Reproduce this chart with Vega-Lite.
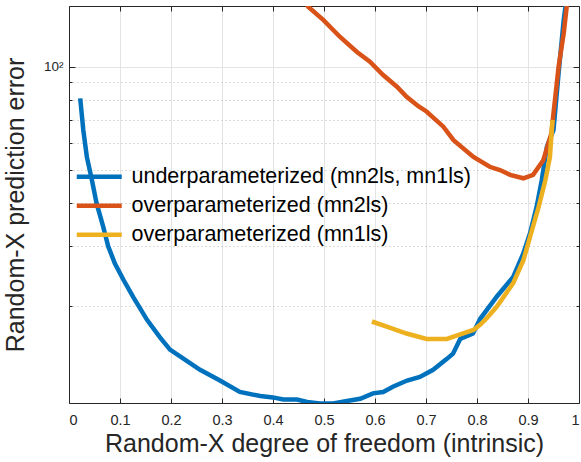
{
  "$schema": "https://vega.github.io/schema/vega-lite/v6.json",
  "width": 510,
  "height": 397,
  "autosize": {"type": "none"},
  "padding": {"left": 69, "top": 6, "right": 2, "bottom": 59},
  "background": "white",
  "config": {
    "view": {"stroke": null},
    "font": "Liberation Sans",
    "axis": {
      "domainColor": "#262626",
      "tickColor": "#262626",
      "labelColor": "#262626",
      "titleColor": "#262626",
      "labelFontSize": 14.5,
      "titleFontSize": 25,
      "titleFontWeight": "normal",
      "domainWidth": 1,
      "tickWidth": 1
    }
  },
  "data": {
    "values": [
      {"x": 0.022, "y": 80.8, "series": "underparameterized (mn2ls, mn1ls)"},
      {"x": 0.028, "y": 65.3, "series": "underparameterized (mn2ls, mn1ls)"},
      {"x": 0.035, "y": 54.5, "series": "underparameterized (mn2ls, mn1ls)"},
      {"x": 0.045, "y": 46.6, "series": "underparameterized (mn2ls, mn1ls)"},
      {"x": 0.054, "y": 39.9, "series": "underparameterized (mn2ls, mn1ls)"},
      {"x": 0.067, "y": 34.1, "series": "underparameterized (mn2ls, mn1ls)"},
      {"x": 0.077, "y": 29.8, "series": "underparameterized (mn2ls, mn1ls)"},
      {"x": 0.090, "y": 26.6, "series": "underparameterized (mn2ls, mn1ls)"},
      {"x": 0.107, "y": 23.8, "series": "underparameterized (mn2ls, mn1ls)"},
      {"x": 0.126, "y": 21.2, "series": "underparameterized (mn2ls, mn1ls)"},
      {"x": 0.153, "y": 18.2, "series": "underparameterized (mn2ls, mn1ls)"},
      {"x": 0.178, "y": 16.2, "series": "underparameterized (mn2ls, mn1ls)"},
      {"x": 0.198, "y": 14.9, "series": "underparameterized (mn2ls, mn1ls)"},
      {"x": 0.257, "y": 13.0, "series": "underparameterized (mn2ls, mn1ls)"},
      {"x": 0.296, "y": 12.1, "series": "underparameterized (mn2ls, mn1ls)"},
      {"x": 0.335, "y": 11.2, "series": "underparameterized (mn2ls, mn1ls)"},
      {"x": 0.375, "y": 10.9, "series": "underparameterized (mn2ls, mn1ls)"},
      {"x": 0.400, "y": 10.8, "series": "underparameterized (mn2ls, mn1ls)"},
      {"x": 0.420, "y": 10.65, "series": "underparameterized (mn2ls, mn1ls)"},
      {"x": 0.447, "y": 10.65, "series": "underparameterized (mn2ls, mn1ls)"},
      {"x": 0.467, "y": 10.47, "series": "underparameterized (mn2ls, mn1ls)"},
      {"x": 0.492, "y": 10.37, "series": "underparameterized (mn2ls, mn1ls)"},
      {"x": 0.518, "y": 10.37, "series": "underparameterized (mn2ls, mn1ls)"},
      {"x": 0.545, "y": 10.54, "series": "underparameterized (mn2ls, mn1ls)"},
      {"x": 0.571, "y": 10.7, "series": "underparameterized (mn2ls, mn1ls)"},
      {"x": 0.596, "y": 11.1, "series": "underparameterized (mn2ls, mn1ls)"},
      {"x": 0.616, "y": 11.2, "series": "underparameterized (mn2ls, mn1ls)"},
      {"x": 0.635, "y": 11.6, "series": "underparameterized (mn2ls, mn1ls)"},
      {"x": 0.663, "y": 12.1, "series": "underparameterized (mn2ls, mn1ls)"},
      {"x": 0.688, "y": 12.4, "series": "underparameterized (mn2ls, mn1ls)"},
      {"x": 0.714, "y": 13.0, "series": "underparameterized (mn2ls, mn1ls)"},
      {"x": 0.741, "y": 14.0, "series": "underparameterized (mn2ls, mn1ls)"},
      {"x": 0.753, "y": 14.5, "series": "underparameterized (mn2ls, mn1ls)"},
      {"x": 0.767, "y": 16.0, "series": "underparameterized (mn2ls, mn1ls)"},
      {"x": 0.792, "y": 16.6, "series": "underparameterized (mn2ls, mn1ls)"},
      {"x": 0.806, "y": 18.3, "series": "underparameterized (mn2ls, mn1ls)"},
      {"x": 0.839, "y": 21.3, "series": "underparameterized (mn2ls, mn1ls)"},
      {"x": 0.871, "y": 24.3, "series": "underparameterized (mn2ls, mn1ls)"},
      {"x": 0.891, "y": 28.5, "series": "underparameterized (mn2ls, mn1ls)"},
      {"x": 0.904, "y": 32.6, "series": "underparameterized (mn2ls, mn1ls)"},
      {"x": 0.917, "y": 39.0, "series": "underparameterized (mn2ls, mn1ls)"},
      {"x": 0.927, "y": 46.6, "series": "underparameterized (mn2ls, mn1ls)"},
      {"x": 0.937, "y": 58.3, "series": "underparameterized (mn2ls, mn1ls)"},
      {"x": 0.950, "y": 65.3, "series": "underparameterized (mn2ls, mn1ls)"},
      {"x": 0.960, "y": 95.6, "series": "underparameterized (mn2ls, mn1ls)"},
      {"x": 0.970, "y": 136.9, "series": "underparameterized (mn2ls, mn1ls)"},
      {"x": 0.976, "y": 160, "series": "underparameterized (mn2ls, mn1ls)"},

      {"x": 0.462, "y": 156, "series": "overparameterized (mn2ls)"},
      {"x": 0.469, "y": 149.7, "series": "overparameterized (mn2ls)"},
      {"x": 0.499, "y": 136.9, "series": "overparameterized (mn2ls)"},
      {"x": 0.531, "y": 122.4, "series": "overparameterized (mn2ls)"},
      {"x": 0.564, "y": 110.6, "series": "overparameterized (mn2ls)"},
      {"x": 0.590, "y": 103.4, "series": "overparameterized (mn2ls)"},
      {"x": 0.616, "y": 94.6, "series": "overparameterized (mn2ls)"},
      {"x": 0.643, "y": 87.4, "series": "overparameterized (mn2ls)"},
      {"x": 0.662, "y": 81.7, "series": "overparameterized (mn2ls)"},
      {"x": 0.685, "y": 76.7, "series": "overparameterized (mn2ls)"},
      {"x": 0.701, "y": 74.0, "series": "overparameterized (mn2ls)"},
      {"x": 0.734, "y": 66.8, "series": "overparameterized (mn2ls)"},
      {"x": 0.754, "y": 61.0, "series": "overparameterized (mn2ls)"},
      {"x": 0.793, "y": 54.5, "series": "overparameterized (mn2ls)"},
      {"x": 0.825, "y": 51.0, "series": "overparameterized (mn2ls)"},
      {"x": 0.845, "y": 49.9, "series": "overparameterized (mn2ls)"},
      {"x": 0.865, "y": 48.3, "series": "overparameterized (mn2ls)"},
      {"x": 0.891, "y": 47.2, "series": "overparameterized (mn2ls)"},
      {"x": 0.910, "y": 48.3, "series": "overparameterized (mn2ls)"},
      {"x": 0.930, "y": 53.3, "series": "overparameterized (mn2ls)"},
      {"x": 0.946, "y": 63.9, "series": "overparameterized (mn2ls)"},
      {"x": 0.950, "y": 73.1, "series": "overparameterized (mn2ls)"},
      {"x": 0.960, "y": 100, "series": "overparameterized (mn2ls)"},
      {"x": 0.970, "y": 125.2, "series": "overparameterized (mn2ls)"},
      {"x": 0.977, "y": 155, "series": "overparameterized (mn2ls)"},

      {"x": 0.594, "y": 18.0, "series": "overparameterized (mn1ls)"},
      {"x": 0.623, "y": 17.4, "series": "overparameterized (mn1ls)"},
      {"x": 0.662, "y": 16.6, "series": "overparameterized (mn1ls)"},
      {"x": 0.701, "y": 16.0, "series": "overparameterized (mn1ls)"},
      {"x": 0.741, "y": 16.0, "series": "overparameterized (mn1ls)"},
      {"x": 0.767, "y": 16.5, "series": "overparameterized (mn1ls)"},
      {"x": 0.793, "y": 17.0, "series": "overparameterized (mn1ls)"},
      {"x": 0.806, "y": 17.6, "series": "overparameterized (mn1ls)"},
      {"x": 0.819, "y": 18.4, "series": "overparameterized (mn1ls)"},
      {"x": 0.839, "y": 19.9, "series": "overparameterized (mn1ls)"},
      {"x": 0.871, "y": 23.3, "series": "overparameterized (mn1ls)"},
      {"x": 0.891, "y": 27.2, "series": "overparameterized (mn1ls)"},
      {"x": 0.904, "y": 31.8, "series": "overparameterized (mn1ls)"},
      {"x": 0.921, "y": 39.0, "series": "overparameterized (mn1ls)"},
      {"x": 0.934, "y": 46.6, "series": "overparameterized (mn1ls)"},
      {"x": 0.943, "y": 54.5, "series": "overparameterized (mn1ls)"},
      {"x": 0.948, "y": 69.9, "series": "overparameterized (mn1ls)"}
    ]
  },
  "layer": [
    {
      "mark": {"type": "line", "strokeWidth": 4.5, "clip": true},
      "encoding": {
        "x": {
          "field": "x", "type": "quantitative",
          "scale": {"domain": [0, 1], "nice": false},
          "axis": {
            "orient": "bottom",
            "values": [0, 0.1, 0.2, 0.3, 0.4, 0.5, 0.6, 0.7, 0.8, 0.9, 1],
            "format": "~g",
            "title": "Random-X degree of freedom (intrinsic)",
            "grid": true, "gridColor": "#E3E3E3", "gridWidth": 1,
            "tickSize": -5, "labelPadding": 15, "titlePadding": 5
          }
        },
        "y": {
          "field": "y", "type": "quantitative",
          "scale": {"type": "log", "domain": [10.4, 150.5], "nice": false},
          "axis": {
            "orient": "left",
            "values": [20, 30, 40, 50, 60, 70, 80, 90, 100],
            "labelExpr": "datum.value == 100 ? '10²' : ''",
            "labelFontSize": 13.5,
            "title": "Random-X prediction error",
            "grid": true,
            "gridColor": {"condition": {"test": "datum.value == 100", "value": "#E3E3E3"}, "value": "#B8B8B8"},
            "gridDash": {"condition": {"test": "datum.value == 100", "value": []}, "value": [1, 3]},
            "gridWidth": 1,
            "tickSize": {"condition": {"test": "datum.value == 100", "value": -6}, "value": -3},
            "labelPadding": {"condition": {"test": "datum.value == 100", "value": 12}, "value": 9},
            "titlePadding": 15
          }
        },
        "color": {
          "field": "series", "type": "nominal",
          "scale": {
            "domain": ["underparameterized (mn2ls, mn1ls)", "overparameterized (mn2ls)", "overparameterized (mn1ls)"],
            "range": ["#0072BD", "#D95319", "#EDB120"]
          },
          "legend": {
            "orient": "none", "legendX": 19.5, "legendY": 160,
            "title": null, "padding": 0,
            "symbolType": "M-4.5,0H4.5", "symbolSize": 100, "symbolStrokeWidth": 4.5,
            "labelFontSize": 21.5, "labelColor": "#000000", "labelOffset": 21.5,
            "labelLimit": 1000,
            "rowPadding": 6
          }
        }
      }
    },
    {
      "mark": {"type": "line", "opacity": 0},
      "encoding": {
        "x": {
          "field": "x", "type": "quantitative",
          "axis": {
            "orient": "top",
            "values": [0, 0.1, 0.2, 0.3, 0.4, 0.5, 0.6, 0.7, 0.8, 0.9, 1],
            "labels": false, "title": null, "grid": false, "tickSize": -5
          }
        },
        "y": {
          "field": "y", "type": "quantitative",
          "axis": {
            "orient": "right",
            "values": [20, 30, 40, 50, 60, 70, 80, 90, 100],
            "labels": false, "title": null, "grid": false,
            "tickSize": {"condition": {"test": "datum.value == 100", "value": -6}, "value": -3}
          }
        },
        "detail": {"field": "series", "type": "nominal"}
      }
    }
  ]
}
